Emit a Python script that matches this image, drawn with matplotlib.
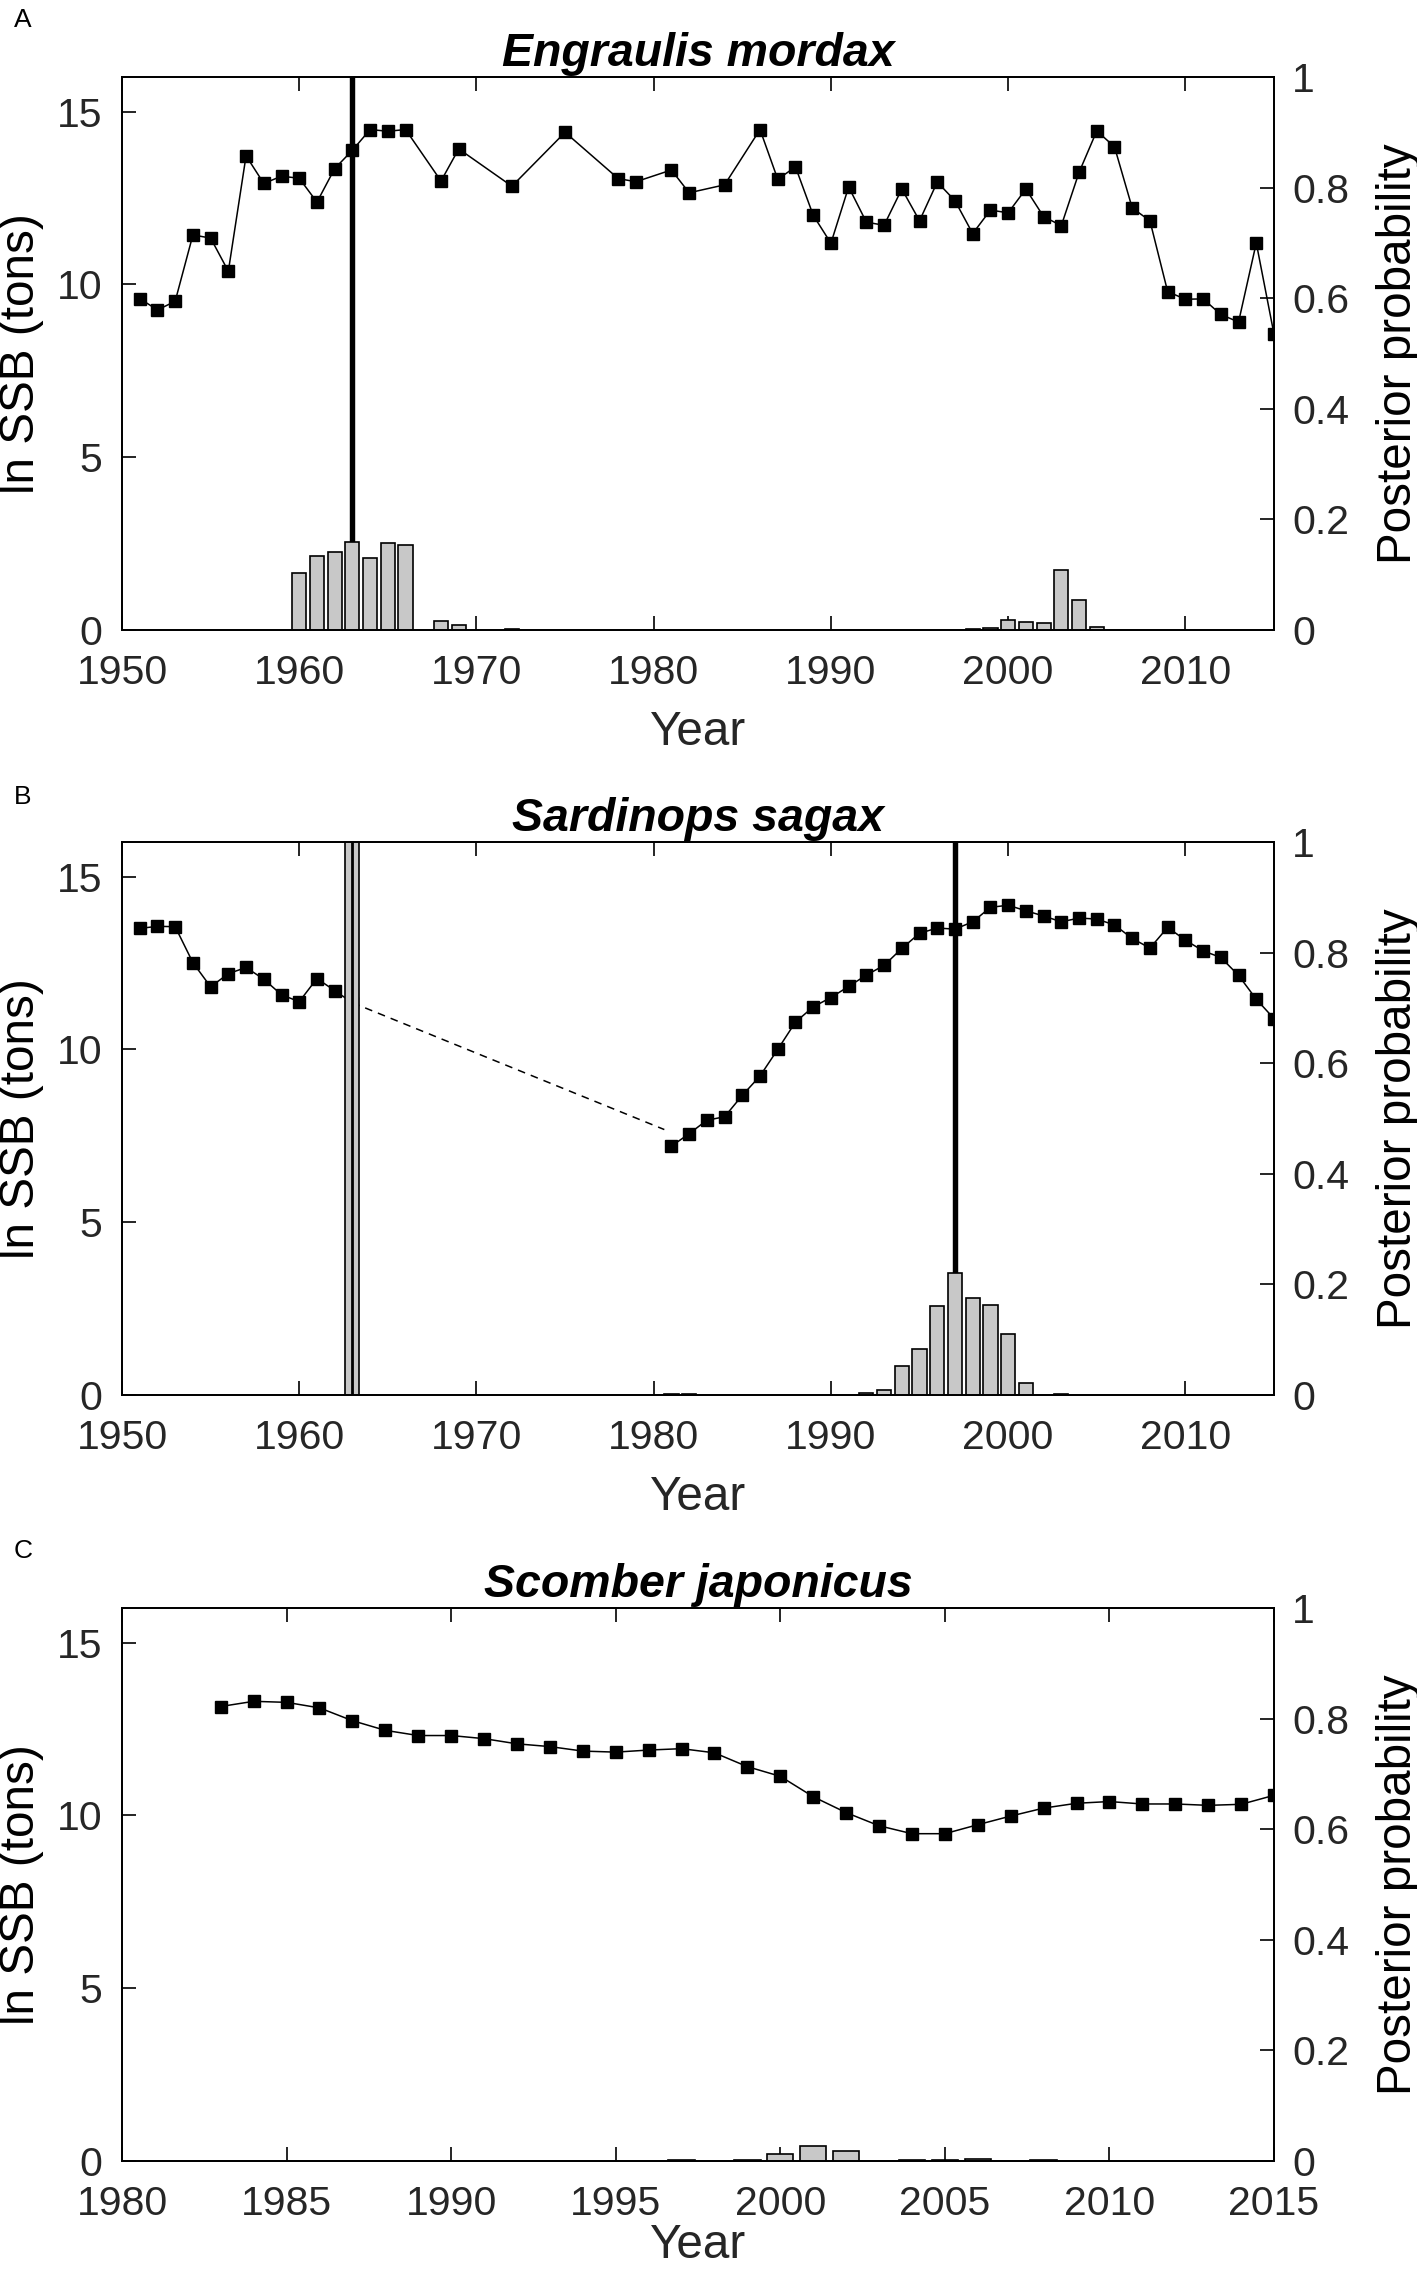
import matplotlib
matplotlib.use('Agg')
import matplotlib.pyplot as plt
import numpy as np

plt.rcParams['font.family'] = ['Liberation Sans', 'DejaVu Sans']

# ---- panel A : Engraulis mordax ----
A_years = list(range(1951, 1967)) + [1968, 1969, 1972, 1975, 1978, 1979, 1981, 1982, 1984] + list(range(1986, 2016))
A_ssb = [9.59, 9.26, 9.51, 11.43, 11.34, 10.38, 13.72, 12.92, 13.13, 13.07, 12.38, 13.35, 13.88, 14.48, 14.43, 14.48,
         12.99, 13.92, 12.84, 14.40, 13.06, 12.97, 13.31, 12.65, 12.88,
         14.48, 13.04, 13.40, 12.00, 11.19, 12.82, 11.80, 11.71, 12.76, 11.84, 12.96, 12.42, 11.47, 12.15, 12.07,
         12.76, 11.96, 11.70, 13.24, 14.44, 13.98, 12.21, 11.84, 9.79, 9.57, 9.58, 9.13, 8.91, 11.20, 8.56]
A_bar_years = [1960, 1961, 1962, 1963, 1964, 1965, 1966, 1968, 1969, 1972,
               1998, 1999, 2000, 2001, 2002, 2003, 2004, 2005]
A_prob = [0.103, 0.134, 0.141, 0.160, 0.130, 0.157, 0.154, 0.0155, 0.0085, 0.002,
          0.001, 0.003, 0.018, 0.015, 0.012, 0.108, 0.054, 0.006]
A_change = [1963]

# ---- panel B : Sardinops sagax ----
B_years_1 = list(range(1951, 1964))
B_ssb_1 = [13.50, 13.56, 13.55, 12.51, 11.81, 12.19, 12.37, 12.03, 11.58, 11.38, 12.05, 11.70, 11.35]
B_years_2 = list(range(1981, 2016))
B_ssb_2 = [7.20, 7.56, 7.95, 8.05, 8.67, 9.23, 10.00, 10.79, 11.23, 11.50, 11.82, 12.15, 12.43, 12.92, 13.36,
           13.51, 13.48, 13.69, 14.11, 14.17, 14.01, 13.86, 13.69, 13.80, 13.77, 13.60, 13.21, 12.93, 13.53,
           13.16, 12.85, 12.66, 12.14, 11.45, 10.89]
B_gap_years = [1963, 1980.6]
B_gap_ssb = [11.35, 7.68]
B_bar_years = [1963, 1981, 1982, 1992, 1993, 1994, 1995, 1996, 1997, 1998, 1999, 2000, 2001, 2003]
B_prob = [1.0, 0.002, 0.002, 0.003, 0.009, 0.053, 0.083, 0.161, 0.220, 0.176, 0.163, 0.111, 0.022, 0.002]
B_change = [1963, 1997]

# ---- panel C : Scomber japonicus ----
C_years = list(range(1983, 2016))
C_ssb = [13.15, 13.30, 13.27, 13.11, 12.74, 12.46, 12.31, 12.31, 12.22, 12.07, 11.99, 11.86, 11.83, 11.89,
         11.93, 11.81, 11.41, 11.13, 10.54, 10.08, 9.70, 9.47, 9.47, 9.73, 9.98, 10.21, 10.35, 10.40,
         10.33, 10.33, 10.29, 10.32, 10.58]
C_bar_years = [1997, 1999, 2000, 2001, 2002, 2004, 2005, 2006, 2008]
C_prob = [0.002, 0.002, 0.012, 0.028, 0.018, 0.002, 0.002, 0.004, 0.002]
C_change = []

W, H = 1417, 2277
fig = plt.figure(figsize=(W / 100, H / 100), dpi=100)

TICK_FS = 29.5
LABEL_FS = 34.3
TICK_COL = '#262626'


def panel(bottom_px, letter, letter_px, title, xlim, xticks, segments, bar_years, probs, changes,
          gap=None, xlab_y=-0.145):
    ax = fig.add_axes([122 / W, 1 - bottom_px / H, 1152 / W, 553 / H])
    ax2 = ax.twinx()

    # changepoint lines (under the bars)
    for c in changes:
        ax.axvline(c, color='black', lw=3.9, zorder=1)

    # ln SSB series
    for yrs, vals in segments:
        ax.plot(yrs, vals, '-', color='black', lw=1.1, marker='s', ms=8,
                mfc='black', mec='black', zorder=3)
    if gap is not None:
        ax.plot(gap[0], gap[1], color='black', lw=1.1, dashes=(5, 4), zorder=3)

    # posterior probability bars
    ax2.bar(bar_years, probs, width=0.8, color='#c8c8c8', edgecolor='black', linewidth=1.2, zorder=2)
    for yr, p in zip(bar_years, probs):
        if p >= 1:
            ax2.axvline(yr, color='black', lw=2.0, zorder=4)

    ax.set_xlim(*xlim)
    ax.set_ylim(0, 16)
    ax2.set_ylim(0, 1)
    ax.set_xticks(xticks)
    ax.set_yticks([0, 5, 10, 15])
    ax2.set_yticks([0, 0.2, 0.4, 0.6, 0.8, 1])
    ax2.set_yticklabels(['0', '0.2', '0.4', '0.6', '0.8', '1'])

    ax.tick_params(axis='x', direction='in', top=True, bottom=True, length=10, width=1.2,
                   labelsize=TICK_FS, pad=17, labelcolor=TICK_COL)
    ax.tick_params(axis='y', direction='in', left=True, right=False, length=10, width=1.2,
                   labelsize=TICK_FS, pad=14, labelcolor=TICK_COL)
    ax2.tick_params(axis='y', direction='in', right=True, left=False, length=10, width=1.2,
                    labelsize=TICK_FS, pad=13, labelcolor=TICK_COL)
    for a in (ax, ax2):
        for s in a.spines.values():
            s.set_linewidth(1.3)

    ax.set_xlabel('Year', fontsize=LABEL_FS, color=TICK_COL)
    ax.xaxis.set_label_coords(0.5, xlab_y)
    ax.set_ylabel('ln SSB (tons)', fontsize=LABEL_FS)
    ax.yaxis.set_label_coords(-0.068, 0.5)
    ax2.set_ylabel('Posterior probability', fontsize=LABEL_FS)
    ax2.yaxis.set_label_coords(1.0885, 0.5)
    ax.set_title(title, fontsize=33.5, fontweight='bold', fontstyle='italic', pad=8)

    fig.text(14 / W, 1 - letter_px / H, letter, fontsize=19, va='baseline', ha='left')


panel(630, 'A', 27, 'Engraulis mordax', (1950, 2015), range(1950, 2011, 10),
      [(A_years, A_ssb)], A_bar_years, A_prob, A_change)
panel(1395, 'B', 804, 'Sardinops sagax', (1950, 2015), range(1950, 2011, 10),
      [(B_years_1, B_ssb_1), (B_years_2, B_ssb_2)], B_bar_years, B_prob, B_change,
      gap=(B_gap_years, B_gap_ssb))
# bottom panel: keep the x label inside the figure
panel(2161, 'C', 1558, 'Scomber japonicus', (1980, 2015), range(1980, 2016, 5),
      [(C_years, C_ssb)], C_bar_years, C_prob, C_change, xlab_y=-0.112)

fig.savefig('out.png', dpi=100)
